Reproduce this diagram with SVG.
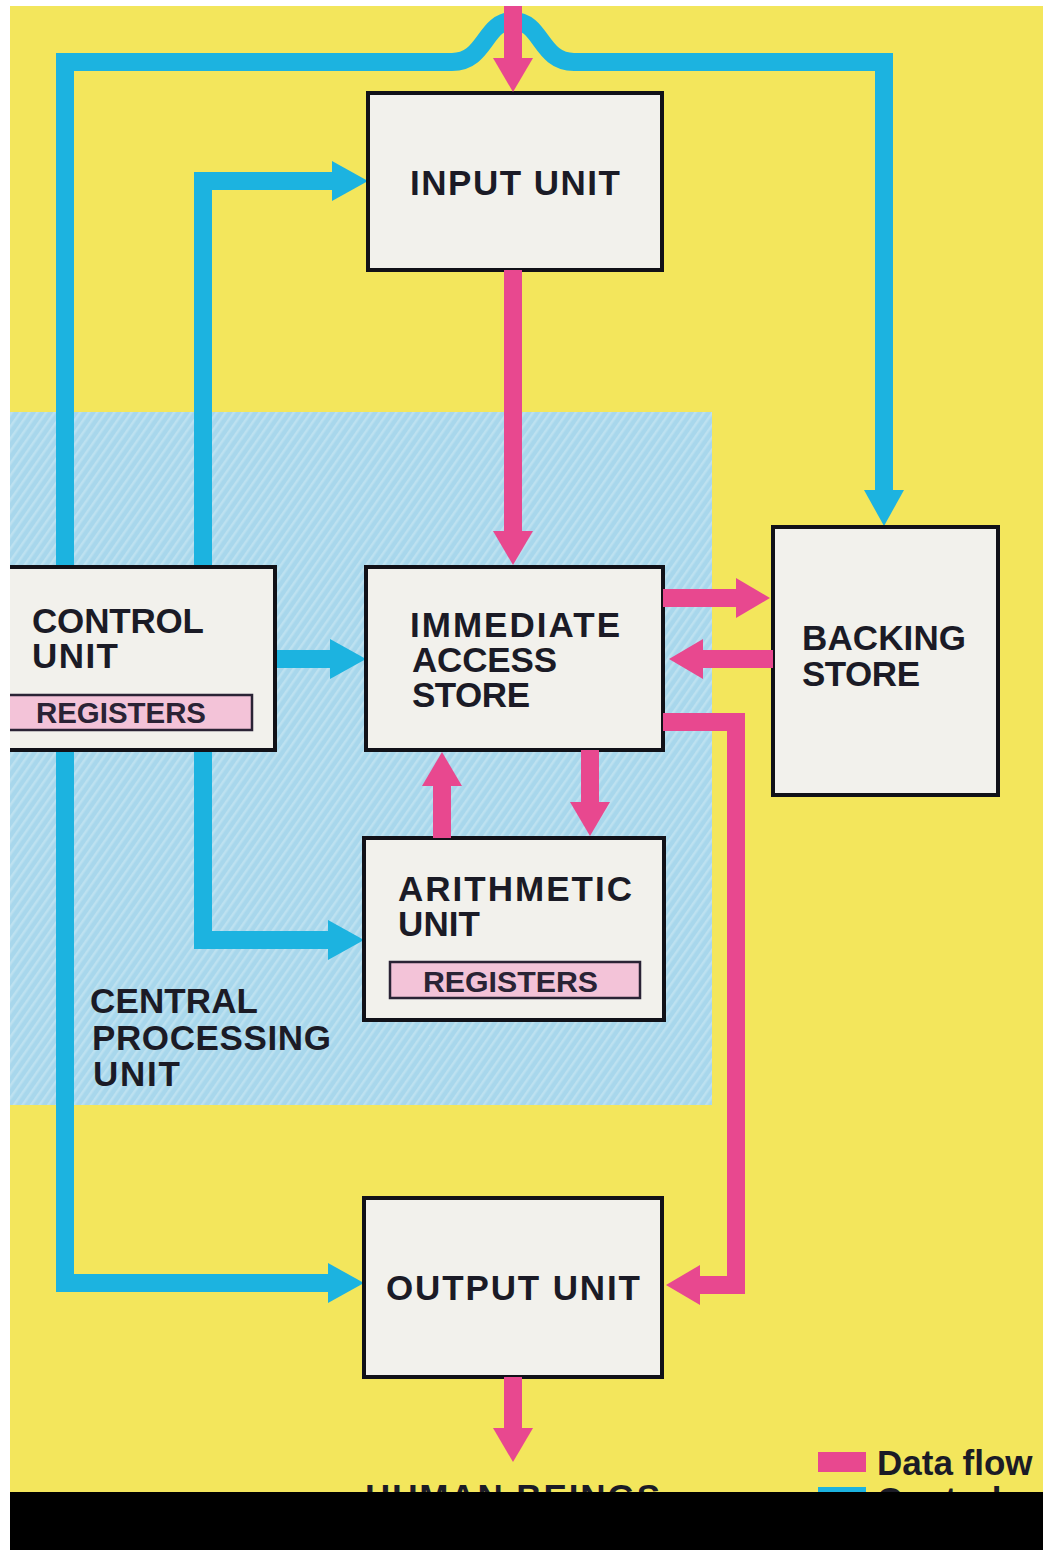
<svg xmlns="http://www.w3.org/2000/svg" width="1043" height="1550" viewBox="0 0 1043 1550">
<defs>
<pattern id="stripes" width="7" height="7" patternUnits="userSpaceOnUse" patternTransform="rotate(35)">
<rect width="7" height="7" fill="#A8D7EC"/>
<rect width="2.5" height="7" fill="#BDE1F0"/>
</pattern>
<marker id="headC" markerUnits="userSpaceOnUse" markerWidth="36" markerHeight="40" viewBox="0 0 36 40" refX="0" refY="20" orient="auto">
<path d="M0,0 L36,20 L0,40 z" fill="#1CB3E0"/>
</marker>
<marker id="headP" markerUnits="userSpaceOnUse" markerWidth="34" markerHeight="40" viewBox="0 0 34 40" refX="0" refY="20" orient="auto">
<path d="M0,0 L34,20 L0,40 z" fill="#E8488F"/>
</marker>
<style>
.ctl{fill:none;stroke:#1CB3E0;stroke-width:18;stroke-linejoin:miter;marker-end:url(#headC)}
.ctl2{fill:none;stroke:#1CB3E0;stroke-width:18;stroke-linejoin:miter}
.dat{fill:none;stroke:#E8488F;stroke-width:18;stroke-linejoin:miter;marker-end:url(#headP)}
.box{fill:#F2F1EC;stroke:#111118;stroke-width:4}
.reg{fill:#F3C3D8;stroke:#2A2335;stroke-width:2.5}
.t{font-family:"Liberation Sans",Arial,sans-serif;font-weight:bold;font-size:35px;fill:#1B1B26}
.r{font-family:"Liberation Sans",Arial,sans-serif;font-weight:bold;font-size:29px;fill:#2A2335}
.lg{font-family:"Liberation Sans",Arial,sans-serif;font-weight:bold;font-size:35px;fill:#1B1B26}
</style>
</defs>
<rect x="0" y="0" width="1043" height="1550" fill="#FFFFFF"/>
<rect x="10" y="6" width="1033" height="1490" fill="#F3E65C"/>
<rect id="cpu-region" x="10" y="412" width="702" height="693" fill="url(#stripes)"/>

<g id="connectors-control">
<path class="ctl" d="M576,62 L884,62 L884,490"/>
<path class="ctl2" d="M65,1283 L65,62 L452,62 C486,62 484,21 513,21 C542,21 540,62 574,62 L578,62"/>
<path class="ctl" d="M65,1200 L65,1283 L328,1283"/>
<path class="ctl" d="M203,650 L203,181 L332,181"/>
<path class="ctl" d="M203,640 L203,940 L328,940"/>
<path class="ctl" d="M270,659 L330,659"/>
</g>

<g id="control-unit">
<rect class="box" x="-10" y="567" width="285" height="183"/>
<text class="t" x="32" y="633" textLength="172">CONTROL</text>
<text class="t" x="32" y="668" textLength="86">UNIT</text>
<rect class="reg" x="-5" y="695" width="257" height="35"/>
<text class="r" x="36" y="723" textLength="170" lengthAdjust="spacingAndGlyphs">REGISTERS</text>
</g>

<g id="input-unit">
<rect class="box" x="368" y="93" width="294" height="177"/>
<text class="t" x="410" y="195" textLength="210">INPUT UNIT</text>
</g>

<g id="immediate-access-store">
<rect class="box" x="366" y="567" width="297" height="183"/>
<text class="t" x="410" y="637" textLength="210">IMMEDIATE</text>
<text class="t" x="412" y="672" textLength="145">ACCESS</text>
<text class="t" x="412" y="707" textLength="118">STORE</text>
</g>

<g id="backing-store">
<rect class="box" x="773" y="527" width="225" height="268"/>
<text class="t" x="802" y="650" textLength="164">BACKING</text>
<text class="t" x="802" y="686" textLength="118">STORE</text>
</g>

<g id="arithmetic-unit">
<rect class="box" x="364" y="838" width="300" height="182"/>
<text class="t" x="398" y="901" textLength="234">ARITHMETIC</text>
<text class="t" x="398" y="936" textLength="82">UNIT</text>
<rect class="reg" x="390" y="962" width="250" height="36"/>
<text class="r" x="423" y="992" textLength="175" lengthAdjust="spacingAndGlyphs">REGISTERS</text>
</g>

<g id="output-unit">
<rect class="box" x="364" y="1198" width="298" height="179"/>
<text class="t" x="386" y="1300" textLength="254">OUTPUT UNIT</text>
</g>

<g id="cpu-label">
<text class="t" x="90" y="1013" textLength="168">CENTRAL</text>
<text class="t" x="92" y="1050" textLength="239">PROCESSING</text>
<text class="t" x="93" y="1086" textLength="87">UNIT</text>
</g>

<g id="connectors-data">
<path class="dat" d="M513,6 L513,58"/>
<path class="dat" d="M513,270 L513,531"/>
<path class="dat" d="M663,598 L736,598"/>
<path class="dat" d="M773,659 L703,659"/>
<path class="dat" d="M663,722 L736,722 L736,1285 L700,1285"/>
<path class="dat" d="M442,838 L442,786"/>
<path class="dat" d="M590,750 L590,802"/>
<path class="dat" d="M513,1377 L513,1428"/>
</g>

<g id="legend">
<rect x="818" y="1452" width="48" height="20" fill="#E8488F"/>
<text class="lg" x="877" y="1475">Data flow</text>
<rect x="818" y="1487" width="48" height="20" fill="#1CB3E0"/>
<text class="lg" x="877" y="1512">Control</text>
</g>

<g id="human-beings">
<text class="t" x="365" y="1509" textLength="295">HUMAN BEINGS</text>
</g>

<rect x="10" y="1492" width="1033" height="58" fill="#000000"/>
<rect x="0" y="0" width="10" height="1550" fill="#FFFFFF"/>
</svg>
